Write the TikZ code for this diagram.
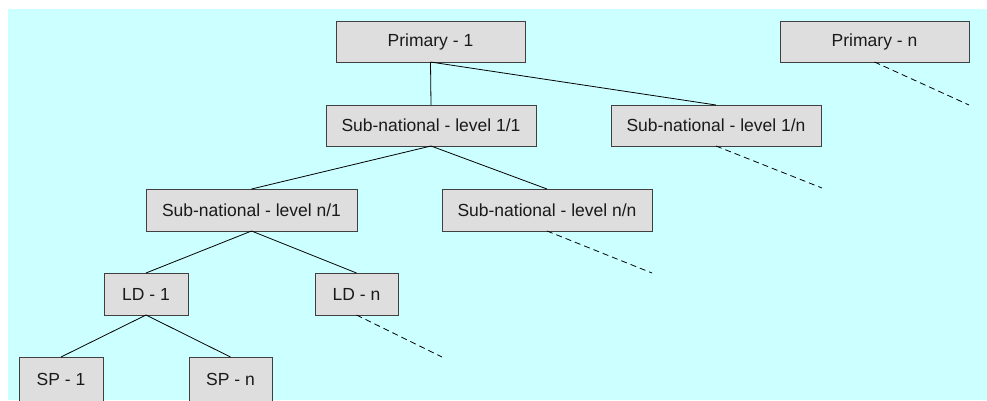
\documentclass[tikz,border=0pt]{standalone}
\usepackage{fontspec}
\setmainfont{Liberation Sans}
\definecolor{bgcyan}{HTML}{CCFFFF}
\definecolor{boxgray}{HTML}{DEDEDE}
\definecolor{edgegray}{HTML}{404040}
\definecolor{txt}{HTML}{1A1A1A}
\begin{document}
\begin{tikzpicture}[x=1pt,y=-1pt,
  box/.style={draw=edgegray, fill=boxgray, line width=1pt, inner sep=0pt, outer sep=0pt,
    minimum height=41pt, text=txt, font=\fontsize{17.5}{20}\selectfont},
  link/.style={draw=black, line width=0.8pt},
  dlink/.style={draw=black, line width=0.8pt, dash pattern=on 6pt off 4pt}]
\useasboundingbox (0,0) rectangle (987,400);
\fill[white] (0,0) rectangle (987,400);
\fill[bgcyan] (8,9) rectangle (987,400);
\begin{scope}
\clip (0,0) rectangle (987,400);
\node[box, minimum width=189pt] (p1) at (430.5,41.5) {Primary - 1};
\node[box, minimum width=189pt] (pn) at (874.5,41.5) {Primary - n};
\node[box, minimum width=210pt] (s11) at (431,125.5) {Sub-national - level 1/1};
\node[box, minimum width=210pt] (s1n) at (716,125.5) {Sub-national - level 1/n};
\node[box, minimum width=211pt, minimum height=42pt] (sn1) at (251.5,210) {Sub-national - level n/1};
\node[box, minimum width=210pt, minimum height=42pt] (snn) at (547,210) {Sub-national - level n/n};
\node[box, minimum width=84pt, minimum height=42pt] (ld1) at (146,294) {LD - 1};
\node[box, minimum width=83pt, minimum height=42pt] (ldn) at (356.5,294) {LD - n};
\node[box, minimum width=84pt, minimum height=46pt, anchor=north] (sp1) at (61,357) {\raisebox{2pt}{SP - 1}};
\node[box, minimum width=83pt, minimum height=46pt, anchor=north] (spn) at (230.5,357) {\raisebox{2pt}{SP - n}};
\coordinate (pnend) at (969,105);
\coordinate (s1nend) at (822,188);
\coordinate (snnend) at (652,273);
\coordinate (ldnend) at (442,357);
\draw[link] (p1.south) -- (s11.north);
\draw[link] (p1.south) -- (s1n.north);
\draw[link] (s11.south) -- (sn1.north);
\draw[link] (s11.south) -- (snn.north);
\draw[link] (sn1.south) -- (ld1.north);
\draw[link] (sn1.south) -- (ldn.north);
\draw[link] (ld1.south) -- (sp1.north);
\draw[link] (ld1.south) -- (spn.north);
\draw[dlink] (pn.south) -- (pnend);
\draw[dlink] (s1n.south) -- (s1nend);
\draw[dlink] (snn.south) -- (snnend);
\draw[dlink] (ldn.south) -- (ldnend);
\end{scope}
\end{tikzpicture}
\end{document}
